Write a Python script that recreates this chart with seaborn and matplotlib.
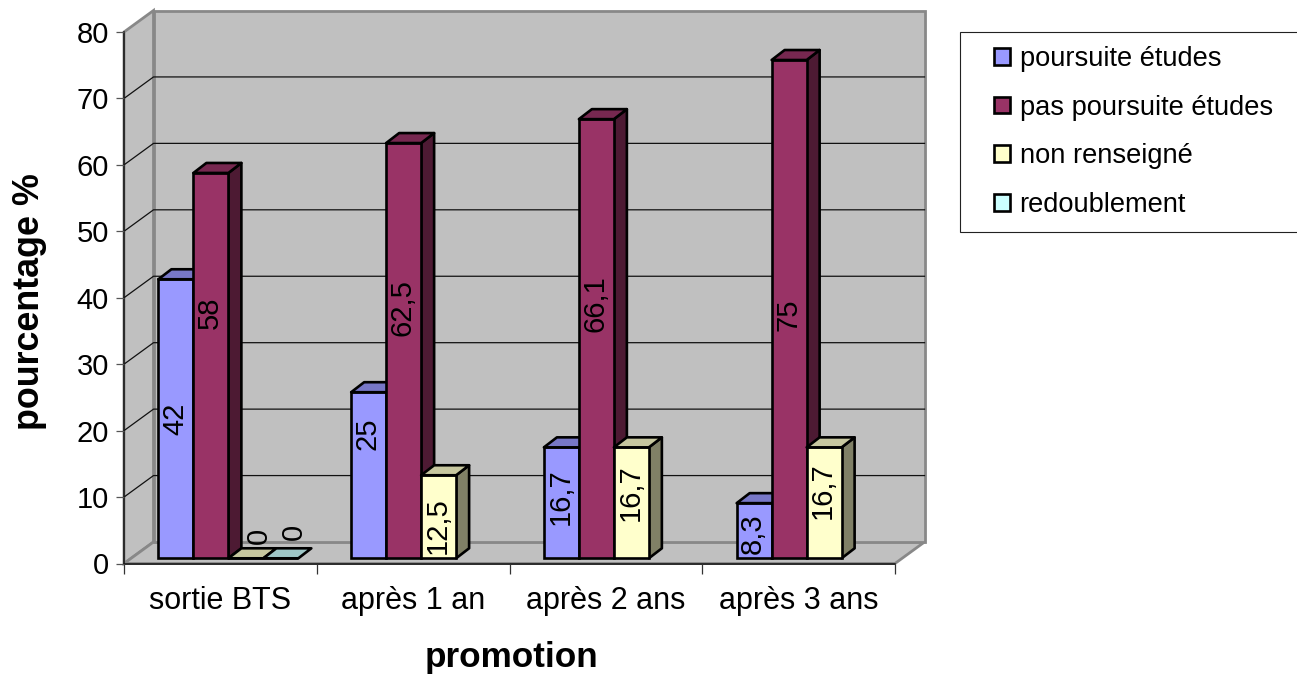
import pandas as pd
import numpy as np
import matplotlib.pyplot as plt
import seaborn as sns
from matplotlib.patches import Polygon, Rectangle
from matplotlib.transforms import Affine2D
from matplotlib.colors import to_rgb

promotions = ['sortie BTS', 'après 1 an', 'après 2 ans', 'après 3 ans']
series = ['poursuite études', 'pas poursuite études', 'non renseigné', 'redoublement']
poursuite = [42, 25, 16.7, 8.3]
pas_poursuite = [58, 62.5, 66.1, 75]
non_renseigne = [0, 12.5, 16.7, 16.7]
redoublement = [0, np.nan, np.nan, np.nan]
colors = ['#9999FF', '#993366', '#FFFFCC', '#CCFFFF']

# how far (px) each label sits above the middle of its bar, same order as the values
label_lift = {
    'poursuite études': [0, 42, 6, -3],
    'pas poursuite études': [53, 43, 35, -6],
    'non renseigné': [22, -9, 10, 12],
    'redoublement': [26, 0, 0, 0],
}

W, H = 1297, 675
LEFT, RIGHT, TOP, BOTTOM = 124, 895, 32, 563.5
font = 'Liberation Sans'
plt.rcParams['font.family'] = font

rows = []
for name, vals in zip(series, [poursuite, pas_poursuite, non_renseigne, redoublement]):
    for p, v in zip(promotions, vals):
        rows.append({'promotion': p, 'serie': name, 'pct': v})
df = pd.DataFrame(rows).dropna()

fig = plt.figure(figsize=(W / 100, H / 100), dpi=100)
ax = fig.add_axes([LEFT / W, 1 - BOTTOM / H, (RIGHT - LEFT) / W, (BOTTOM - TOP) / H])

sns.barplot(data=df, x='promotion', y='pct', hue='serie', order=promotions, hue_order=series,
            palette=colors, saturation=1, width=0.726, gap=0, errorbar=None,
            edgecolor='black', linewidth=1.9, ax=ax)
handles, labels = ax.get_legend_handles_labels()
ax.get_legend().remove()

ax.set_xlim(-0.5, 3.5)
ax.set_ylim(0, 80)
ax.patch.set_visible(False)


def shifted(dx, dy):
    return ax.transData + Affine2D().translate(dx, dy)


# walls and floor of the box
wall_dx, wall_dy = 29.5, 21.5
back = shifted(wall_dx, wall_dy)
ident = Affine2D()
def disp(tr, x, y):
    return tr.transform((x, y))

x0, x1 = -0.5, 3.5
wall = [(disp(ax.transData, x0, 0)), disp(back, x0, 0), disp(back, x0, 80), disp(ax.transData, x0, 80)]
floor = [disp(ax.transData, x0, 0), disp(ax.transData, x1, 0), disp(back, x1, 0), disp(back, x0, 0)]
rear = [disp(back, x0, 0), disp(back, x1, 0), disp(back, x1, 80), disp(back, x0, 80)]
for pts in [wall, floor, rear]:
    ax.add_patch(Polygon(pts, closed=True, fc='#C0C0C0', ec='#888888', lw=2, transform=ident,
                         clip_on=False, zorder=0.5))

for v in range(10, 80, 10):
    a, b = disp(ax.transData, x0, v), disp(back, x0, v)
    c = disp(back, x1, v)
    ax.plot([a[0], b[0], c[0]], [a[1], b[1], c[1]], color='#111111', lw=0.9, transform=ident,
            clip_on=False, zorder=0.8)

# bars: front comes from seaborn, side and top are added on it
bar_dx, bar_dy = 13, 10
shift = shifted(8, 5.2)
z = 3
for cont, name, col in zip(ax.containers, series, colors):
    rgb = np.array(to_rgb(col))
    vals = df[df['serie'] == name]['pct'].tolist()
    lifts = label_lift[name]
    for patch, v, lift in zip(cont.patches, vals, lifts):
        patch.set_transform(shift)
        patch.set_zorder(z)
        patch.set_clip_on(False)
        px, pw, ph = patch.get_x(), patch.get_width(), patch.get_height()
        a = disp(shift, px, 0)
        b = disp(shift, px + pw, 0)
        c = disp(shift, px + pw, ph)
        d = disp(shift, px, ph)
        side = [b, c, c + (bar_dx, bar_dy), b + (bar_dx, bar_dy)]
        top = [d, c, c + (bar_dx, bar_dy), d + (bar_dx, bar_dy)]
        if ph > 0:
            ax.add_patch(Polygon(side, closed=True, fc=rgb * 0.5, ec='black', lw=1.9, transform=ident,
                                 clip_on=False, zorder=z - 0.2, joinstyle='round'))
        ax.add_patch(Polygon(top, closed=True, fc=rgb * 0.78, ec='black', lw=1.9, transform=ident,
                             clip_on=False, zorder=z + 0.1, joinstyle='round'))
        z += 1
        txt = f'{v:g}'.replace('.', ',')
        cx = (a[0] + b[0]) / 2 + (13 if ph == 0 else -1)
        cy = (a[1] + d[1]) / 2 + lift
        ax.text(cx, cy, txt, rotation=90, ha='center', va='center', fontsize=21, color='black',
                transform=ident, clip_on=False, zorder=50)

# axes and ticks
sns.despine(ax=ax)
for s in ['left', 'bottom']:
    ax.spines[s].set_color('#111111')
    ax.spines[s].set_linewidth(1.1)
    ax.spines[s].set_zorder(1)
ax.set_yticks(range(0, 81, 10))
ax.tick_params(axis='y', labelsize=21, length=5.8, width=0.9, color='#555555', pad=5)
ax.set_xticks(range(4))
ax.set_xticklabels(promotions)
ax.set_xticks(np.arange(-0.5, 4), minor=True)
ax.tick_params(axis='x', which='major', length=0, labelsize=22, pad=16)
ax.tick_params(axis='x', which='minor', length=7, width=0.9, color='#333333')
ax.set_xlabel('promotion', fontsize=25.3, fontweight='bold', va='center')
ax.xaxis.set_label_coords(0.502, -94 / (BOTTOM - TOP))
ax.set_ylabel('pourcentage %', fontsize=25.8, fontweight='bold', va='center')
ax.yaxis.set_label_coords(-94 / (RIGHT - LEFT), 0.4925)

# legend, the frame runs off the right side of the picture
fig.add_artist(Rectangle((960 / W, 1 - 232 / H), 345 / W, 200 / H, fc='white', ec='#222222', lw=0.8,
                         transform=fig.transFigure))
leg = fig.legend(handles, labels, loc='upper left', bbox_to_anchor=(994 / W, 1 - 46 / H), frameon=False,
                 fontsize=19.6, borderpad=0, borderaxespad=0, handlelength=0.58, handleheight=0.58,
                 handletextpad=0.36, labelspacing=0.83)
leg.set_zorder(10)
for h in leg.legend_handles:
    h.set_linewidth(1.9)

fig.savefig('out.png', dpi=100)
